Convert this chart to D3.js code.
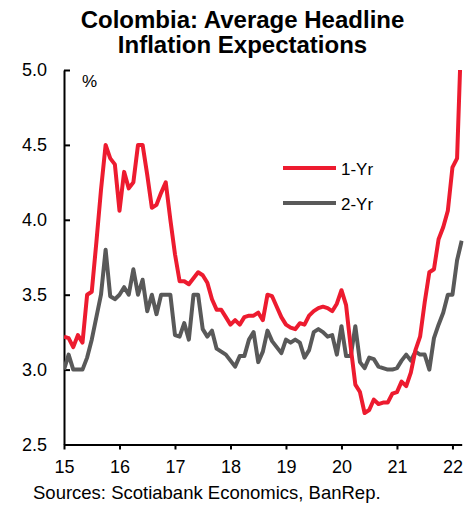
<!DOCTYPE html>
<html>
<head>
<meta charset="utf-8">
<script src="https://cdn.jsdelivr.net/npm/d3@7"></script>
<style>
  body { margin: 0; background: #fff; }
  text { font-family: "Liberation Sans", Arial, sans-serif; fill: #000; }
</style>
</head>
<body>
<div id="chart"></div>
<script>
// monthly survey, Jan 2015 .. Mar 2022
var yearLabels = ["15", "16", "17", "18", "19", "20", "21", "22"];
var seriesNames = ["1-Yr", "2-Yr"];

var oneYr = [
  3.22, 3.21, 3.15, 3.23, 3.18, 3.50, 3.52, 3.85, 4.20, 4.50, 4.41, 4.37,
  4.06, 4.32, 4.21, 4.25, 4.50, 4.50, 4.30, 4.08, 4.10, 4.18, 4.25, 4.00,
  3.77, 3.59, 3.59, 3.57, 3.61, 3.65, 3.63, 3.58, 3.47, 3.40, 3.40, 3.35,
  3.30, 3.33, 3.30, 3.35, 3.36, 3.36, 3.38, 3.33, 3.50, 3.49, 3.42, 3.35,
  3.30, 3.28, 3.27, 3.31, 3.30, 3.36, 3.39, 3.41, 3.42, 3.41, 3.39, 3.44,
  3.53, 3.43, 3.15, 2.90, 2.85, 2.71, 2.73, 2.80, 2.77, 2.78, 2.78, 2.84,
  2.85, 2.92, 2.89, 2.98, 3.13, 3.22, 3.45, 3.65, 3.67, 3.87, 3.95, 4.06,
  4.35, 4.41, 5.33
];

var twoYr = [
  3.00, 3.10, 3.00, 3.00, 3.00, 3.08, 3.20, 3.35, 3.50, 3.80, 3.49, 3.47,
  3.50, 3.55, 3.50, 3.67, 3.50, 3.60, 3.39, 3.50, 3.37, 3.50, 3.50, 3.50,
  3.23, 3.22, 3.31, 3.20, 3.50, 3.50, 3.27, 3.22, 3.26, 3.14, 3.12, 3.10,
  3.06, 3.02, 3.09, 3.09, 3.20, 3.25, 3.05, 3.12, 3.26, 3.19, 3.15, 3.11,
  3.20, 3.18, 3.20, 3.18, 3.08, 3.13, 3.25, 3.27, 3.25, 3.22, 3.23, 3.10,
  3.29, 3.09, 3.09, 3.29, 3.05, 3.01, 3.08, 3.07, 3.02, 3.01, 3.00, 3.00,
  3.01, 3.06, 3.10, 3.06, 3.12, 3.10, 3.10, 3.00, 3.21, 3.30, 3.38, 3.50,
  3.50, 3.73, 3.86
];

var yTicks = [2.5, 3.0, 3.5, 4.0, 4.5, 5.0];

var w = 476;
var h = 506;
var margin = {top: 70, right: 14.3, bottom: 61.5, left: 64};
var innerWidth = w - margin.left - margin.right;
var innerHeight = h - margin.top - margin.bottom;

var red = "#ed1b2f";
var grey = "#595959";

var xScale = d3.scaleLinear()
    .domain([0, oneYr.length - 1])
    .range([0, innerWidth]);

var yScale = d3.scaleLinear()
    .domain([2.5, 5.0])
    .range([innerHeight, 0]);

var xAxis = d3.axisBottom(xScale)
    .tickValues(yearLabels.map((d, i) => i * 12))
    .tickFormat((d, i) => yearLabels[i])
    .tickSizeInner(5)
    .tickSizeOuter(0)
    .tickPadding(11);

var yAxis = d3.axisLeft(yScale)
    .tickValues(yTicks)
    .tickFormat(d3.format(".1f"))
    .tickSizeInner(-6)
    .tickSizeOuter(0)
    .tickPadding(17);

var svg = d3.select("#chart")
  .append("svg")
    .attr("width", w)
    .attr("height", h);

svg.append("rect")
    .attr("width", w)
    .attr("height", h)
    .attr("fill", "#fff");

// title
var title = svg.append("text")
    .attr("text-anchor", "middle")
    .style("font-size", "24px")
    .style("font-weight", "bold");
title.append("tspan").attr("x", 242.5).attr("y", 28).text("Colombia: Average Headline");
title.append("tspan").attr("x", 242.5).attr("y", 53).text("Inflation Expectations");

svg.append("defs").append("clipPath")
    .attr("id", "plotClip")
  .append("rect")
    .attr("x", 0)
    .attr("y", 0)
    .attr("width", innerWidth + 2)
    .attr("height", innerHeight);

var g = svg.append("g")
    .attr("transform", `translate(${margin.left}, ${margin.top})`);

// axes
g.append("g")
    .attr("class", "xAxis")
    .attr("transform", `translate(0, ${innerHeight})`)
    .call(xAxis);

g.append("g")
    .attr("class", "yAxis")
    .call(yAxis);

g.selectAll(".domain, .tick line")
    .attr("stroke", "#000")
    .attr("stroke-width", 2);

g.selectAll(".tick text")
    .style("font-size", "18px")
    .attr("fill", "#000");

// unit label
g.append("text")
    .attr("x", 18)
    .attr("y", 17)
    .style("font-size", "17px")
    .text("%");

var line = d3.line()
    .x((d, i) => xScale(i))
    .y(d => yScale(d));

var lines = g.append("g").attr("clip-path", "url(#plotClip)");

lines.append("path")
    .datum(twoYr)
    .attr("fill", "none")
    .attr("stroke", grey)
    .attr("stroke-width", 4)
    .attr("stroke-linejoin", "round")
    .attr("d", line);

lines.append("path")
    .datum(oneYr)
    .attr("fill", "none")
    .attr("stroke", red)
    .attr("stroke-width", 4)
    .attr("stroke-linejoin", "round")
    .attr("d", line);

// legend
var legend = svg.append("g")
    .attr("transform", "translate(283, 168)");

legend.selectAll("line")
    .data(seriesNames)
  .enter().append("line")
    .attr("x1", 0)
    .attr("x2", 53)
    .attr("y1", (d, i) => i * 35)
    .attr("y2", (d, i) => i * 35)
    .attr("stroke", (d, i) => i == 0 ? red : grey)
    .attr("stroke-width", 4);

legend.selectAll("text")
    .data(seriesNames)
  .enter().append("text")
    .attr("x", 58)
    .attr("y", (d, i) => i * 35 + 7)
    .style("font-size", "17px")
    .text(d => d);

// source
svg.append("text")
    .attr("x", 33)
    .attr("y", 499)
    .style("font-size", "18.5px")
    .text("Sources: Scotiabank Economics, BanRep.");
</script>
</body>
</html>
